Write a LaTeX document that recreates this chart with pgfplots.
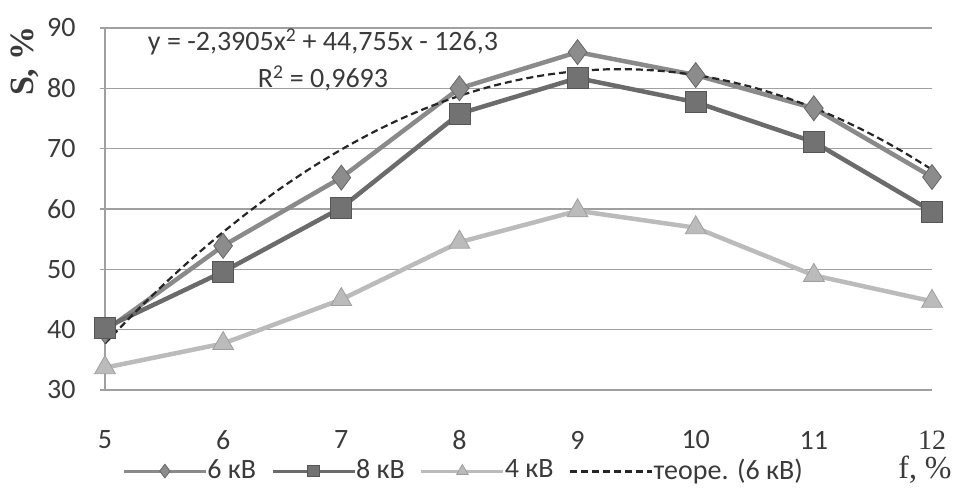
\documentclass[border=0pt]{standalone}
\usepackage{fontspec}
\setmainfont{Carlito}
\newfontfamily\seriffont{Liberation Serif}
\usepackage{pgfplots}
\pgfplotsset{compat=1.18}
\definecolor{csix}{HTML}{8A8A8A}
\definecolor{csixm}{HTML}{8C8C8C}
\definecolor{ceight}{HTML}{6B6B6B}
\definecolor{cfour}{HTML}{BBBBBB}
\definecolor{cgrid}{HTML}{A0A0A0}
\definecolor{ctext}{HTML}{3A3A3A}
\begin{document}
\fontsize{28}{33}\selectfont
\begin{tikzpicture}
\useasboundingbox (-105pt,-100pt) rectangle (853pt,390pt);
\begin{axis}[
  at={(0,0)}, anchor=south west,
  scale only axis, width=827pt, height=362pt,
  xmin=5, xmax=12, ymin=30, ymax=90,
  xtick={5,6,...,12}, ytick={30,40,...,90},
  xticklabels={5,6,7,8,9,10,11,{\seriffont 12}},
  axis x line*=bottom, axis y line*=left,
  axis line style={draw=cgrid, line width=1.5pt, -},
  ymajorgrids, grid style={cgrid, line width=1.4pt},
  x tick style={draw=none},
  y tick style={draw=cgrid, line width=1.3pt},
  major tick length=5pt, tick align=outside,
  tick label style={font=\fontsize{28}{33}\selectfont, text=ctext, /pgf/number format/assume math mode=true},
  xticklabel style={anchor=center, yshift=-45pt},
  yticklabel style={anchor=east, xshift=-15pt},
  clip=false,
  legend columns=4,
  legend style={at={(0.433,-0.224)}, anchor=center, draw=none, fill=none,
    font=\fontsize{28}{30}\selectfont, text=ctext,
    nodes={inner sep=1pt},
    /tikz/every even column/.append style={column sep=14pt},
    /tikz/every odd column/.append style={column sep=-1pt},
    inner sep=0pt},
  legend image code/.code={\draw[mark repeat=2,mark phase=2, line width=3pt,
     /tikz/every mark/.append style={scale=0.55}]
     plot coordinates {(0pt,0pt) (41pt,0pt) (82pt,0pt)};},
]
\addplot[color=csix, line width=4.5pt, mark=diamond*, mark size=12.5pt,
  mark options={fill=csixm, draw=csix!75!black, line width=0.8pt}]
  coordinates {(5,39.8) (6,53.9) (7,65.2) (8,80.0) (9,86.0) (10,82.2) (11,76.7) (12,65.3)};
\addlegendentry{6 кВ}
\addplot[color=ceight, line width=4.5pt, mark=square*, mark size=10.5pt,
  mark options={fill=ceight!95, draw=ceight!80!black, line width=0.8pt}]
  coordinates {(5,40.3) (6,49.6) (7,60.2) (8,75.8) (9,81.7) (10,77.7) (11,71.1) (12,59.6)};
\addlegendentry{8 кВ}
\addplot[color=cfour, line width=4.5pt, mark=triangle*, mark size=12pt,
  mark options={fill=cfour, draw=cfour!85!black, line width=0.8pt}]
  coordinates {(5,33.7) (6,37.7) (7,45.0) (8,54.5) (9,59.7) (10,56.9) (11,49.0) (12,44.7)};
\addlegendentry{4 кВ}
\addplot[color=black!85, line width=2.2pt, dash pattern=on 7pt off 4pt, smooth]
  coordinates {(5,37.71) (5.25,42.78) (5.5,47.54) (5.75,52.01) (6,56.17) (6.25,60.04)
  (6.5,63.61) (6.75,66.88) (7,69.85) (7.25,72.52) (7.5,74.90) (7.75,76.97) (8,78.75)
  (8.25,80.23) (8.5,81.40) (8.75,82.28) (9,82.86) (9.25,83.15) (9.5,83.13) (9.75,82.81)
  (10,82.20) (10.25,81.29) (10.5,80.08) (10.75,78.56) (11,76.76) (11.25,74.65)
  (11.5,72.24) (11.75,69.53) (12,66.53)};
\addlegendentry{теоре. (6 кВ)}
\end{axis}
\node[align=center, inner sep=0pt, font=\fontsize{28}{37}\selectfont, text=ctext]
  at (218pt,330pt) {y = -2,3905x\textsuperscript{2} + 44,755x - 126,3\\R\textsuperscript{2} = 0,9693};
\node[rotate=90, font=\seriffont\bfseries\fontsize{34}{38}\selectfont, inner sep=0pt, text=ctext] at (-80pt,329pt) {S, \%};
\node[font=\seriffont\fontsize{32}{36}\selectfont, inner sep=0pt, text=ctext] at (820pt,-80pt) {f, \%};
\end{tikzpicture}
\end{document}
